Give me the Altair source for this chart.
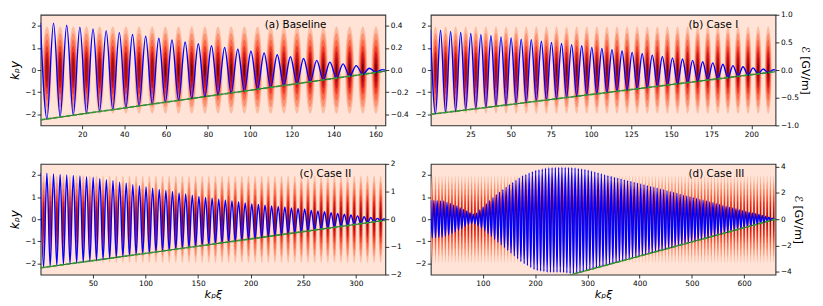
import altair as alt
import pandas as pd

# ---------------- values ----------------
PERIOD = 6.2832  # spacing of field extrema / bunches along k_p xi

LABELS = {"a": "(a) Baseline", "b": "(b) Case I", "c": "(c) Case II", "d": "(d) Case III"}
XI_RANGE = {"a": [0.1, 164.7], "b": [0.2, 215.0], "c": [0.3, 328.0], "d": [0.3, 660.0]}
XI_TICKS = {
    "a": [20, 40, 60, 80, 100, 120, 140, 160],
    "b": [25, 50, 75, 100, 125, 150, 175, 200],
    "c": [50, 100, 150, 200, 250, 300],
    "d": [100, 200, 300, 400, 500, 600],
}
Y_RANGE = [-2.5, 2.5]
Y_TICKS = [-2, -1, 0, 1, 2]
E_RANGE = {"a": 0.5, "b": 1.0, "c": 2.0, "d": 4.2}
E_TICKS = {
    "a": [-0.4, -0.2, 0.0, 0.2, 0.4],
    "b": [-1.0, -0.5, 0.0, 0.5, 1.0],
    "c": [-2, -1, 0, 1, 2],
    "d": [-4, -2, 0, 2, 4],
}
E_FORMAT = {"a": ".1f", "b": ".1f", "c": "d", "d": "d"}

# field maxima (at k*PERIOD) and minima (at (k+0.5)*PERIOD), GV/m
PEAKS_A = [0.43, 0.424, 0.405, 0.388, 0.372, 0.356, 0.338, 0.322, 0.306, 0.288,
           0.272, 0.254, 0.238, 0.22, 0.204, 0.188, 0.17, 0.154, 0.138, 0.12,
           0.104, 0.088, 0.072, 0.056, 0.04, 0.016, 0.004]
TROUGHS_A = [-0.442, -0.425, -0.408, -0.391, -0.374, -0.358, -0.341, -0.324, -0.307, -0.29,
             -0.274, -0.257, -0.24, -0.223, -0.206, -0.19, -0.173, -0.156, -0.139, -0.122,
             -0.106, -0.089, -0.072, -0.055, -0.038, -0.02]
PEAKS_B = [0.74, 0.72, 0.70, 0.68, 0.66, 0.64, 0.62, 0.60, 0.58, 0.56,
           0.55, 0.52, 0.50, 0.48, 0.46, 0.44, 0.41, 0.39, 0.37, 0.345,
           0.32, 0.295, 0.27, 0.245, 0.22, 0.20, 0.175, 0.15, 0.13, 0.105,
           0.08, 0.06, 0.04, 0.02, 0.005]
TROUGHS_B = [-0.79, -0.77, -0.74, -0.72, -0.70, -0.68, -0.65, -0.63, -0.61, -0.59,
             -0.56, -0.54, -0.52, -0.50, -0.47, -0.45, -0.43, -0.41, -0.38, -0.36,
             -0.34, -0.32, -0.29, -0.27, -0.25, -0.23, -0.20, -0.18, -0.16, -0.14,
             -0.11, -0.09, -0.07, -0.05]
PEAKS_C = [1.68, 1.66, 1.64, 1.62, 1.60, 1.58, 1.56, 1.54, 1.52, 1.47,
           1.43, 1.39, 1.34, 1.30, 1.25, 1.21, 1.17, 1.12, 1.08, 1.04,
           1.00, 0.95, 0.91, 0.87, 0.82, 0.79, 0.76, 0.72, 0.69, 0.66,
           0.62, 0.59, 0.55, 0.53, 0.51, 0.48, 0.46, 0.44, 0.41, 0.39,
           0.37, 0.33, 0.30, 0.27, 0.24, 0.21, 0.18, 0.15, 0.12, 0.09,
           0.06, 0.03, 0.01]
TROUGHS_C = [-1.74, -1.71, -1.68, -1.64, -1.61, -1.58, -1.55, -1.51, -1.48, -1.45,
             -1.41, -1.38, -1.35, -1.32, -1.28, -1.25, -1.22, -1.18, -1.15, -1.12,
             -1.08, -1.05, -1.02, -0.99, -0.95, -0.92, -0.89, -0.85, -0.82, -0.79,
             -0.76, -0.72, -0.69, -0.66, -0.62, -0.59, -0.56, -0.52, -0.49, -0.46,
             -0.43, -0.39, -0.36, -0.33, -0.29, -0.26, -0.23, -0.19, -0.16, -0.13,
             -0.10, -0.06]
PEAKS_D = [1.43, 1.42, 1.40, 1.39, 1.38, 1.28, 1.19, 1.09, 1.00, 0.87,
           0.74, 0.62, 0.49, 0.39, 0.45, 0.70, 0.94, 1.17, 1.41, 1.64,
           1.87, 2.06, 2.25, 2.44, 2.62, 2.79, 2.96, 3.13, 3.30, 3.40,
           3.51, 3.61, 3.71, 3.76, 3.81, 3.87, 3.91, 3.92, 3.93, 3.94,
           3.95, 3.94, 3.93, 3.92, 3.90, 3.86, 3.82, 3.78, 3.73, 3.66,
           3.59, 3.52, 3.45, 3.38, 3.31, 3.25, 3.18, 3.12, 3.06, 2.99,
           2.93, 2.87, 2.80, 2.74, 2.68, 2.62, 2.55, 2.49, 2.43, 2.36,
           2.30, 2.24, 2.17, 2.11, 2.04, 1.97, 1.90, 1.83, 1.77, 1.70,
           1.63, 1.57, 1.50, 1.44, 1.38, 1.31, 1.25, 1.18, 1.12, 1.05,
           0.99, 0.92, 0.85, 0.79, 0.72, 0.65, 0.59, 0.53, 0.47, 0.41,
           0.36, 0.29, 0.22, 0.15, 0.07, 0.00]
TROUGHS_D = [-1.42, -1.40, -1.38, -1.36, -1.29, -1.19, -1.08, -0.97, -0.84, -0.70,
             -0.55, -0.40, -0.34, -0.34, -0.51, -0.69, -0.88, -1.09, -1.30, -1.52,
             -1.73, -1.94, -2.15, -2.36, -2.57, -2.78, -2.99, -3.21, -3.37, -3.52,
             -3.67, -3.81, -3.89, -3.93, -3.97, -4.02, -4.03, -4.03, -4.03, -4.03,
             -4.05, -4.08, -4.11, -4.14, -4.10, -4.03, -3.96, -3.89, -3.83, -3.76,
             -3.69, -3.62, -3.56, -3.49, -3.42, -3.35, -3.28, -3.22, -3.15, -3.08,
             -3.01, -2.95, -2.88, -2.81, -2.74, -2.67, -2.61, -2.54, -2.47, -2.40,
             -2.34, -2.27, -2.20, -2.13, -2.06, -2.00, -1.93, -1.86, -1.79, -1.72,
             -1.66, -1.59, -1.52, -1.45, -1.39, -1.32, -1.25, -1.18, -1.11, -1.05,
             -0.98, -0.91, -0.84, -0.77, -0.71, -0.64, -0.57, -0.50, -0.44, -0.37,
             -0.30, -0.23, -0.17, -0.10, -0.03]
PEAKS = {"a": PEAKS_A, "b": PEAKS_B, "c": PEAKS_C, "d": PEAKS_D}
TROUGHS = {"a": TROUGHS_A, "b": TROUGHS_B, "c": TROUGHS_C, "d": TROUGHS_D}

# green dashed reference line end points (xi, GV/m)
GREEN_XI = {"a": [0.1, 164.7], "b": [0.2, 215.0], "c": [0.0, 328.0], "d": [0.0, 660.0]}
GREEN_E = {"a": [-0.45, -0.01], "b": [-0.80, -0.03], "c": [-1.76, -0.04], "d": [-7.11, 0.0]}

# density bunches (centred on the field minima), contour half-heights in k_p y
LEVEL_HALF_HEIGHT = [1.97, 1.68, 1.38, 1.1, 0.83, 0.56, 0.3]
BUNCH_HALF_WIDTH_XI = 2.1  # outer contour half-width along k_p xi
FULL_LEVELS_FROM = {"a": 9, "b": 12, "c": 18, "d": 0}

# ---------------- styling ----------------
W, H = 349, 112
BG = "#fee3d6"
LEVEL_COLORS = ["#fcbba1", "#fc9272", "#fb6a4a", "#ef3b2c", "#cb181d", "#a50f15", "#67000d"]
FONT = "DejaVu Sans"
LABEL_POS = {"a": (227, 10.3), "b": (261, 10.3), "c": (262, 10.3), "d": (261, 10.3)}
PX_PER_Y = H / (Y_RANGE[1] - Y_RANGE[0])
SIZES = [(2 * h * PX_PER_Y) ** 2 for h in LEVEL_HALF_HEIGHT]


def ellipse_path(rx):
    c = 0.5523
    cx = c * rx
    return (f"M0,-1C{cx:.4f},-1 {rx:.4f},{-c} {rx:.4f},0"
            f"C{rx:.4f},{c} {cx:.4f},1 0,1"
            f"C{-cx:.4f},1 {-rx:.4f},{c} {-rx:.4f},0"
            f"C{-rx:.4f},{-c} {-cx:.4f},-1 0,-1Z")


def panel(p):
    x0, x1 = XI_RANGE[p]
    px_per_xi = W / (x1 - x0)
    rx = (BUNCH_HALF_WIDTH_XI * px_per_xi) / (LEVEL_HALF_HEIGHT[0] * PX_PER_Y)

    xscale = alt.Scale(domain=[x0, x1], nice=False, zero=False)
    xaxis = alt.Axis(values=XI_TICKS[p], format="d",
                     title=("kₚξ" if p in "cd" else None),
                     titleFontSize=11.5, titleFontStyle="italic", titlePadding=1.5)
    yleft = alt.Axis(values=Y_TICKS, format="d", orient="left",
                     title=("kₚy" if p in "ac" else None),
                     titleFontSize=12, titleFontStyle="italic", titlePadding=3)
    yright = alt.Axis(values=E_TICKS[p], format=E_FORMAT[p], orient="right",
                      title=("ℰ [GV/m]" if p in "bd" else None),
                      titleFontSize=11, titleFontStyle="normal", titlePadding=1.5)

    # bunch table
    nfull = len(LEVEL_HALF_HEIGHT)
    rows = []
    for k in range(len(TROUGHS[p])):
        nlev = nfull if k >= FULL_LEVELS_FROM[p] else nfull - 1
        for lev in range(nlev):
            rows.append({"xi": (k + 0.5) * PERIOD, "yc": 0.0, "lev": lev})
    dfb = pd.DataFrame(rows)

    # field line table
    pts = []
    pk, tr = PEAKS[p], TROUGHS[p]
    for k, v in enumerate(pk):
        pts.append({"xi": k * PERIOD, "E": v})
        if k < len(tr):
            pts.append({"xi": (k + 0.5) * PERIOD, "E": tr[k]})
    pts.append({"xi": x1, "E": 0.0})
    dfe = pd.DataFrame(pts)

    dfg = pd.DataFrame({"xi": GREEN_XI[p], "E": GREEN_E[p]})

    levs = list(range(nfull))
    bunch = alt.Chart(dfb).mark_point(
        shape=ellipse_path(rx), filled=True, opacity=1, strokeWidth=0, clip=True
    ).encode(
        x=alt.X("xi:Q", scale=xscale, axis=xaxis),
        y=alt.Y("yc:Q", scale=alt.Scale(domain=Y_RANGE, nice=False, zero=False), axis=yleft),
        size=alt.Size("lev:Q", scale=alt.Scale(domain=levs, range=SIZES), legend=None),
        color=alt.Color("lev:O", scale=alt.Scale(domain=levs, range=LEVEL_COLORS), legend=None),
    )

    escale = alt.Scale(domain=[-E_RANGE[p], E_RANGE[p]], nice=False, zero=False)
    blue = alt.Chart(dfe).mark_line(
        color="#0000ff", strokeWidth=1.4, interpolate="monotone", clip=True
    ).encode(
        x=alt.X("xi:Q", scale=xscale, axis=xaxis),
        y=alt.Y("E:Q", scale=escale, axis=yright),
    )
    g_under = alt.Chart(dfg).mark_line(color="#333333", strokeWidth=0.9, clip=True).encode(
        x=alt.X("xi:Q", scale=xscale, axis=xaxis),
        y=alt.Y("E:Q", scale=escale, axis=yright),
    )
    g_dash = alt.Chart(dfg).mark_line(
        color="#2ca02c", strokeWidth=1.7, strokeDash=[4.5, 2], clip=True
    ).encode(
        x=alt.X("xi:Q", scale=xscale, axis=xaxis),
        y=alt.Y("E:Q", scale=escale, axis=yright),
    )
    fields = alt.layer(blue, g_under, g_dash)

    lx, ly = LABEL_POS[p]
    label = alt.Chart(pd.DataFrame({"t": [LABELS[p]]})).mark_text(
        align="left", baseline="middle", font=FONT, fontSize=10.5, color="black"
    ).encode(x=alt.value(lx), y=alt.value(ly), text="t:N")

    return alt.layer(bunch, fields, label).resolve_scale(y="independent").properties(
        width=W, height=H
    )


chart = alt.concat(
    panel("a"), panel("b"), panel("c"), panel("d"),
    columns=2, spacing={"row": 39, "column": 46}, bounds="flush",
).properties(
    padding={"left": 0, "top": 0, "right": 3, "bottom": 0}
).configure_view(
    fill=BG, stroke="#333333", strokeWidth=1.1
).configure_axis(
    grid=False, domain=False,
    labelFont=FONT, labelFontSize=7.5, labelColor="black", labelPadding=1.5,
    tickColor="black", tickSize=3.5, tickWidth=0.8,
    titleFont=FONT, titleFontWeight="normal", titleColor="black",
)

chart.save("out.html", embed_options={"renderer": "svg", "actions": False})
